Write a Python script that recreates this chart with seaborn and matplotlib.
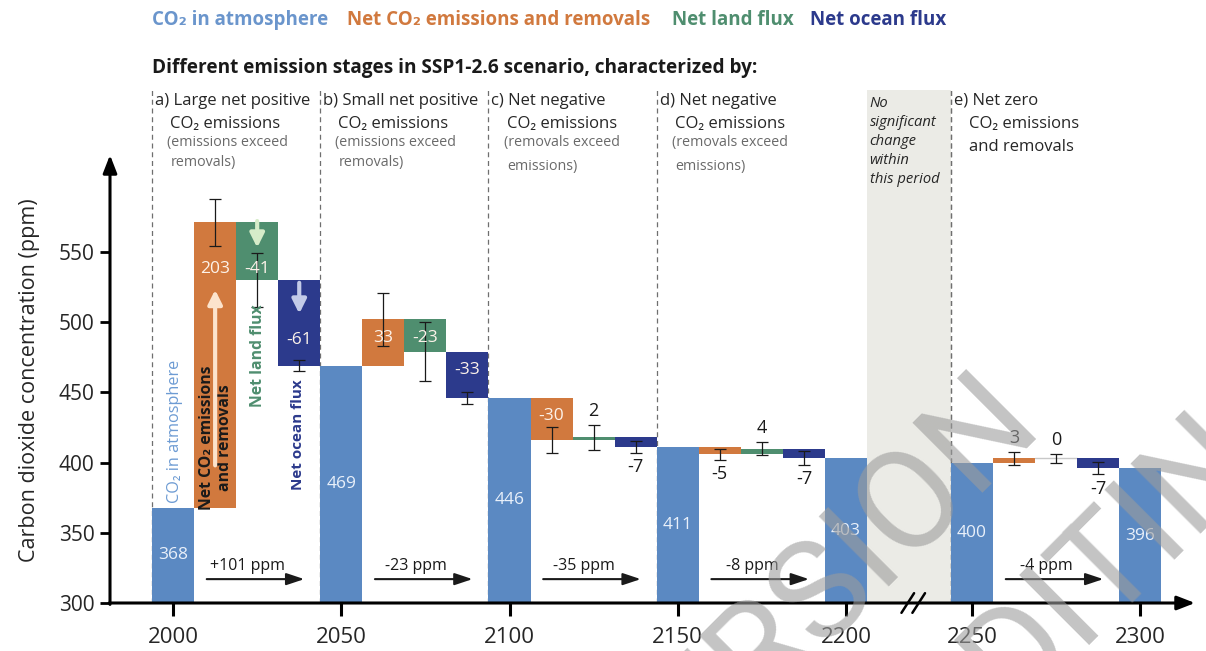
import numpy as np
import pandas as pd
import seaborn as sns
import matplotlib.pyplot as plt
from matplotlib.patches import Rectangle

# values (ppm)
years = [2000, 2050, 2100, 2150, 2200, 2250, 2300]
atmosphere = [368, 469, 446, 411, 403, 400, 396]
stage_start = [2000, 2050, 2100, 2150, 2250]
net_emissions = [203, 33, -30, -5, 3]
land_flux = [-41, -23, 2, 4, 0]
ocean_flux = [-61, -33, -7, -7, -7]
emissions_err = [17, 19, 9.5, 4, 4.5]
land_err = [19, 21, 9, 4.5, 3]
ocean_err = [4, 4, 4.5, 5, 4.5]
change_labels = ["+101 ppm", "-23 ppm", "-35 ppm", "-8 ppm", "-4 ppm"]

panel_text = [
    ["a) Large net positive", "CO\u2082 emissions", "(emissions exceed", "removals)"],
    ["b) Small net positive", "CO\u2082 emissions", "(emissions exceed", "removals)"],
    ["c) Net negative", "CO\u2082 emissions", "(removals exceed", "emissions)"],
    ["d) Net negative", "CO\u2082 emissions", "(removals exceed", "emissions)"],
    ["e) Net zero", "CO\u2082 emissions", "and removals"],
]
legend_items = ["CO\u2082 in atmosphere", "Net CO\u2082 emissions and removals",
                "Net land flux", "Net ocean flux"]

BLUE = "#5b89c2"
ORANGE = "#d1793e"
GREEN = "#4f8e6f"
NAVY = "#2c3a8c"
FONT = ["Open Sans", "DejaVu Sans"]


def slot(year):
    # one bar slot = 12.5 years; the 2200-2250 period is compressed
    s = (year - 2000) / 12.5
    return s - 1 if year > 2210 else s


sns.set_theme(style="white")
plt.rcParams["font.family"] = FONT

fig = plt.figure(figsize=(12.06, 6.51), dpi=100)
ax = fig.add_axes([110 / 1206, 48 / 651, 1085 / 1206, 448 / 651])

# atmosphere bars
df = pd.DataFrame({"pos": [slot(y) for y in years], "ppm": atmosphere})
bar_w = 1 / np.diff(sorted(df["pos"])).min()
sns.barplot(data=df, x="pos", y="ppm", native_scale=True, width=bar_w,
            color=BLUE, saturation=1, errorbar=None, linewidth=0, ax=ax, zorder=2)

ebar = dict(fmt="none", ecolor="#1a1a1a", elinewidth=0.9, capsize=4.5,
            capthick=0.9, zorder=4)

for i, yr in enumerate(stage_start):
    s = slot(yr)
    base = atmosphere[years.index(yr)]
    e_top = base + net_emissions[i]
    l_top = e_top + land_flux[i]
    bars = [(s + 1, base, net_emissions[i], emissions_err[i], ORANGE, "emis"),
            (s + 2, e_top, land_flux[i], land_err[i], GREEN, "land"),
            (s + 3, l_top, ocean_flux[i], ocean_err[i], NAVY, "ocean")]
    for x, bottom, v, err, col, kind in bars:
        if v == 0:
            ax.plot([x - 0.5, x + 0.5], [bottom, bottom], color="#c8c8c8", lw=1, zorder=3)
        else:
            ax.bar(x, v, bottom=bottom, width=1, color=col, linewidth=0, zorder=3)
        end = bottom + v
        ax.errorbar(x, end, yerr=err, **ebar)
        top = max(bottom, end)
        if abs(v) >= 20:
            if i == 0:
                ly = top - (43 if kind == "ocean" else 33)
            else:
                ly = top - 13
            ax.text(x, ly, f"{v}", color="#fdf3ea", ha="center", va="center",
                    fontsize=12.5, zorder=5)
        elif v >= 0:
            ax.text(x, end + err + 10, f"{v}", color="#1a1a1a", ha="center",
                    va="center", fontsize=13, zorder=5)
        else:
            ax.text(x, end - err - 10, f"{v}", color="#1a1a1a", ha="center",
                    va="center", fontsize=13, zorder=5)

    # dashed separator and panel description
    ax.plot([s - 0.5, s - 0.5], [300, 665], color="#6f6f6f", lw=0.9,
            dashes=(4, 3), clip_on=False, zorder=1)
    lines = panel_text[i]
    ax.text(s - 0.43, 657.5, lines[0], fontsize=12, va="center", clip_on=False)
    ax.text(s - 0.07, 641.2, lines[1], fontsize=12, va="center", clip_on=False)
    if i == 4:
        ax.text(s - 0.07, 624.5, lines[2], fontsize=12, va="center", clip_on=False)
    else:
        y3, y4 = (627.6, 613.4) if i < 2 else (627.6, 610.5)
        ax.text(s - 0.14, y3, lines[2], fontsize=10.3, color="#6a6a6a",
                va="center", clip_on=False)
        ax.text(s - 0.05, y4, lines[3], fontsize=10.3, color="#6a6a6a",
                va="center", clip_on=False)

    # change over the stage
    ax.annotate("", xy=(s + 3.12, 317), xytext=(s + 0.8, 317),
                arrowprops=dict(arrowstyle="-|>,head_length=0.9,head_width=0.3",
                                lw=1.5, color="#1a1a1a", shrinkA=0, shrinkB=0), zorder=5)
    ax.text(s + 1.77, 326, change_labels[i], ha="center", va="center",
            fontsize=11.5, color="#1a1a1a", zorder=5)

# atmosphere values
for yr, v in zip(years, atmosphere):
    ax.text(slot(yr), (300 + v) / 2, f"{v}", color="#e9f0fa", ha="center",
            va="center", fontsize=12.5, zorder=5)

# period without change
gap_l = slot(2200) + 0.5
gap_r = slot(2250) - 0.5
ax.add_patch(Rectangle((gap_l, 300), gap_r - gap_l, 365, color="#ebebe6",
                       linewidth=0, clip_on=False, zorder=0))
ax.plot([gap_r, gap_r], [300, 665], color="#6f6f6f", lw=0.9, dashes=(4, 3),
        clip_on=False, zorder=1)
for k, t in enumerate(["No", "significant", "change", "within", "this period"]):
    ax.text(gap_l + 0.06, 655.4 - k * 13.5, t, fontsize=10.6, style="italic",
            va="center", clip_on=False)

# labels inside the first stage
s0 = slot(stage_start[0])
ax.text(s0 + 0.05, 422, "CO\u2082 in atmosphere", rotation=90, color="#6d9bd3",
        fontsize=11.7, ha="center", va="center", zorder=5)
ax.text(s0 + 1.02, 417.5, "Net CO\u2082 emissions\nand removals", rotation=90,
        color="#1a1a1a", fontsize=11.3, fontweight="bold", ha="center", va="center",
        linespacing=1.15, zorder=5)
ax.text(s0 + 2.02, 476, "Net land flux", rotation=90, color=GREEN, fontsize=11.3,
        fontweight="bold", ha="center", va="center", zorder=5)
ax.text(s0 + 2.97, 420, "Net ocean flux", rotation=90, color=NAVY, fontsize=11,
        fontweight="bold", ha="center", va="center", zorder=5)
arrow_kw = dict(arrowstyle="-|>,head_length=0.7,head_width=0.35", lw=3, shrinkA=0, shrinkB=0)
ax.annotate("", xy=(s0 + 1, 523), xytext=(s0 + 1, 398),
            arrowprops=dict(color="#fce3cc", **arrow_kw), zorder=5)
ax.annotate("", xy=(s0 + 2, 553), xytext=(s0 + 2, 572),
            arrowprops=dict(color="#d6ecc9", **arrow_kw), zorder=5)
ax.annotate("", xy=(s0 + 3, 506), xytext=(s0 + 3, 528),
            arrowprops=dict(color="#c3cbe8", **arrow_kw), zorder=5)

# axes with arrow heads
xmin, xmax, ymin, ymax = -1.5, 24.3, 300, 619
ax.set_xlim(xmin, xmax)
ax.set_ylim(ymin, ymax)
for sp in ax.spines.values():
    sp.set_visible(False)
head = dict(arrowstyle="-|>,head_length=0.9,head_width=0.35", lw=2.2,
            color="black", shrinkA=0, shrinkB=0)
ax.annotate("", xy=(xmax, ymin), xytext=(xmin - 0.02, ymin), arrowprops=head,
            annotation_clip=False, zorder=6)
ax.annotate("", xy=(xmin, ymax), xytext=(xmin, ymin - 1), arrowprops=head,
            annotation_clip=False, zorder=6)
# axis break
for bx in (17.47, 17.73):
    ax.plot([bx - 0.15, bx + 0.15], [293, 307], color="black", lw=1.8,
            clip_on=False, zorder=7)

ax.set_xticks([slot(y) for y in years])
ax.set_xticklabels([str(y) for y in years])
ax.set_yticks([300, 350, 400, 450, 500, 550])
ax.tick_params(axis="x", length=9, width=2.2, color="black", labelsize=16, pad=8,
               bottom=True)
ax.tick_params(axis="y", length=7, width=2, color="black", labelsize=15, pad=4,
               left=True)
ax.set_xlabel("")
ax.set_ylabel("")
ax.grid(False)
fig.text(30 / 1206, 1 - 380 / 651, "Carbon dioxide concentration (ppm)",
         rotation=90, ha="center", va="center", fontsize=15.5)

# colour legend and heading
for t, px, col in zip(legend_items, [152, 347, 672, 810],
                      ["#6a95cc", ORANGE, GREEN, NAVY]):
    fig.text(px / 1206, 1 - 20 / 651, t, color=col, fontsize=13.5,
             fontweight="bold", va="center")
fig.text(152 / 1206, 1 - 68 / 651,
         "Different emission stages in SSP1-2.6 scenario, characterized by:",
         fontsize=13.7, fontweight="bold", va="center", color="#1a1a1a")

# draft watermark
wm = dict(rotation=45, rotation_mode="anchor", ha="right", va="baseline",
          fontsize=100, color="#9c9c9c", alpha=0.6, family=["Roboto", "DejaVu Sans"],
          fontweight="normal", zorder=10)
fig.text(1045 / 1206, 1 - 430 / 651, "ACCEPTED VERSION", **wm)
fig.text(1330 / 1206, 1 - 405 / 651, "SUBJECT TO FINAL EDITING", **wm)

fig.savefig("out.png", dpi=100)
